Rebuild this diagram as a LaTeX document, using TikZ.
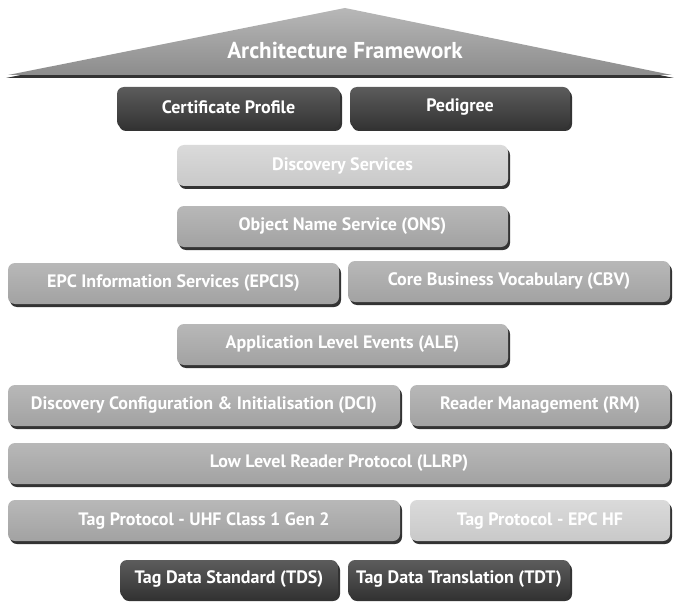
\documentclass[tikz,border=0pt]{standalone}
\usepackage{fontspec}
\setmainfont{PT Sans}
\usetikzlibrary{shadows}
\definecolor{darkbox}{HTML}{343434}
\definecolor{darktop}{HTML}{5C5C5C}
\definecolor{midbox}{HTML}{A2A2A2}
\definecolor{midtop}{HTML}{B8B8B8}
\definecolor{lightbox}{HTML}{C9C9C9}
\definecolor{lighttop}{HTML}{DADADA}
\tikzset{
  layer/.style={rounded corners=7pt, inner sep=0pt, text=white,
    font=\fontsize{18}{20}\selectfont\bfseries,
    drop shadow={shadow xshift=2pt, shadow yshift=-3pt, fill=black!80, opacity=1}},
  darklayer/.style={layer, top color=darktop, bottom color=darkbox},
  midlayer/.style={layer, top color=midtop, bottom color=midbox},
  lightlayer/.style={layer, top color=lighttop, bottom color=lightbox},
}
% #1 name, #2 style, #3 left, #4 top, #5 right, #6 bottom, #7 label
\newcommand{\layerbox}[7]{%
  \node[#2, minimum width={(#5-#3)*1pt}, minimum height={(#6-#4)*1pt}]
    (#1) at ({(#3+#5)/2},{(#4+#6)/2}) {#7};}
\begin{document}
\begin{tikzpicture}[x=1pt,y=-1pt]
\useasboundingbox (0,0) rectangle (674,604);
% roof
\fill[black!80] (6,78) -- (345,10) -- (674,78) -- cycle;
\shade[top color=black!28, bottom color=black!45] (8,75) -- (345,8) -- (672,75) -- cycle;
\node[text=white, font=\fontsize{23}{25}\selectfont\bfseries] (roof) at (345,50) {Architecture Framework};
% layers, top to bottom
\layerbox{cert}{darklayer}{117}{87}{340}{128}{Certificate Profile}
\layerbox{ped}{darklayer}{350}{87}{570}{128}{Pedigree}
\layerbox{ds}{lightlayer}{177}{145}{508}{186}{Discovery Services}
\layerbox{ons}{midlayer}{177}{206}{508}{247}{Object Name Service (ONS)}
\layerbox{epcis}{midlayer}{8}{263}{339}{304}{EPC Information Services (EPCIS)}
\layerbox{cbv}{midlayer}{348}{261}{670}{302}{Core Business Vocabulary (CBV)}
\layerbox{ale}{midlayer}{177}{324}{508}{365}{Application Level Events (ALE)}
\layerbox{dci}{midlayer}{8}{385}{400}{426}{Discovery Configuration \& Initialisation (DCI)}
\layerbox{rm}{midlayer}{410}{385}{670}{426}{Reader Management (RM)}
\layerbox{llrp}{midlayer}{8}{443}{670}{484}{Low Level Reader Protocol (LLRP)}
\layerbox{uhf}{midlayer}{8}{500}{400}{541}{Tag Protocol - UHF Class 1 Gen 2}
\layerbox{hf}{lightlayer}{410}{500}{670}{541}{Tag Protocol - EPC HF}
\layerbox{tds}{darklayer}{120}{560}{338}{598}{Tag Data Standard (TDS)}
\layerbox{tdt}{darklayer}{348}{560}{570}{598}{Tag Data Translation (TDT)}
\end{tikzpicture}
\end{document}
